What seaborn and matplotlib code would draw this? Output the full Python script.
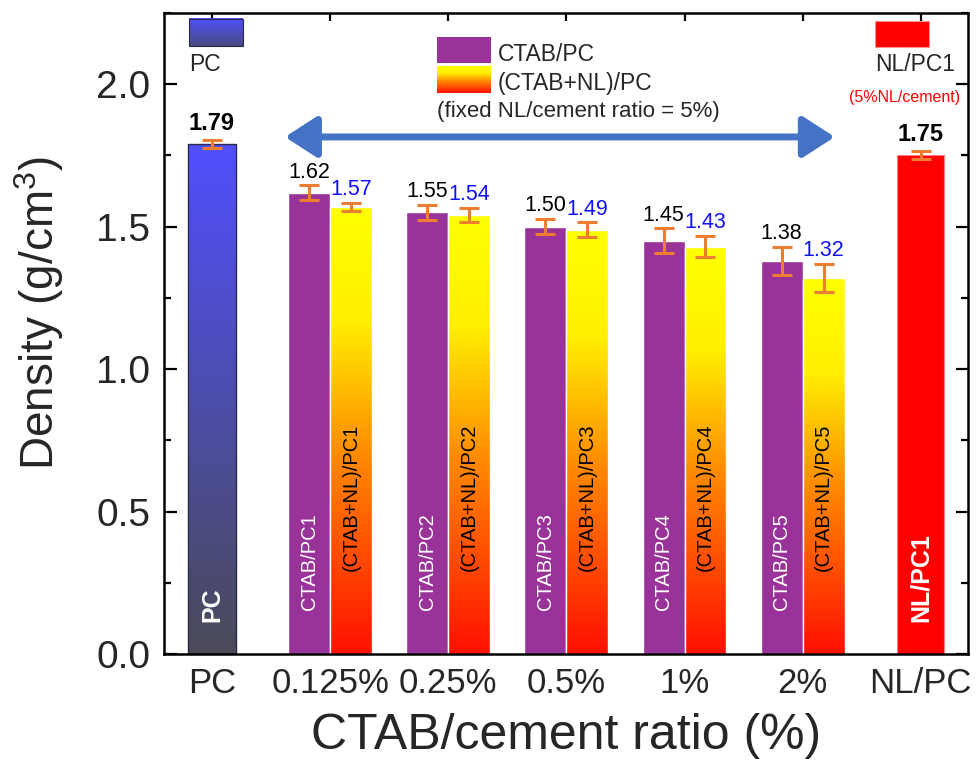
import numpy as np
import pandas as pd
import matplotlib
matplotlib.use('Agg')
import matplotlib.pyplot as plt
import seaborn as sns
from matplotlib.colors import LinearSegmentedColormap, to_rgb
from matplotlib.patches import Rectangle
from matplotlib.ticker import MultipleLocator, NullLocator, FormatStrFormatter

# ---------------- data ----------------
categories = ['PC', '0.125%', '0.25%', '0.5%', '1%', '2%', 'NL/PC']
single_cats = ['PC', 'NL/PC']
single_vals = [1.79, 1.75]
single_err = [0.014, 0.014]
single_names = ['PC', 'NL/PC1']

group_cats = ['0.125%', '0.25%', '0.5%', '1%', '2%']
series = ['CTAB/PC', '(CTAB+NL)/PC']
ctab_vals = [1.62, 1.55, 1.50, 1.45, 1.38]
ctab_err = [0.025, 0.026, 0.026, 0.044, 0.049]
ctabnl_vals = [1.57, 1.54, 1.49, 1.43, 1.32]
ctabnl_err = [0.014, 0.025, 0.025, 0.038, 0.049]
ctab_names = ['CTAB/PC1', 'CTAB/PC2', 'CTAB/PC3', 'CTAB/PC4', 'CTAB/PC5']
ctabnl_names = ['(CTAB+NL)/PC1', '(CTAB+NL)/PC2', '(CTAB+NL)/PC3',
                '(CTAB+NL)/PC4', '(CTAB+NL)/PC5']

# ---------------- style ----------------
sns.set_theme(style='ticks')
plt.rcParams['font.family'] = ['Liberation Sans', 'DejaVu Sans']
plt.rcParams['mathtext.default'] = 'regular'

PURPLE = '#993399'
ORANGE = '#ED7D31'
ARROW = '#4472C4'
nl_cmap = LinearSegmentedColormap.from_list(
    'nl', [(0.0, '#FF1000'), (0.45, '#FF8C00'), (0.75, '#FFF000'), (1.0, '#FFFF00')])
pc_cmap = LinearSegmentedColormap.from_list('pc', ['#4A4A58', '#5050FF'])

fig = plt.figure(figsize=(9.78, 7.76), dpi=100)
ax = fig.add_axes([0.1677, 0.1572, 0.8221, 0.8260])

# single bars
df_single = pd.DataFrame({'cat': single_cats, 'val': single_vals})
n0 = len(ax.patches)
sns.barplot(data=df_single, x='cat', y='val', hue='cat', order=categories,
            palette={'PC': '#5050FF', 'NL/PC': '#FF0000'}, dodge=False,
            width=0.4, errorbar=None, saturation=1, legend=False, ax=ax)
single_patches = sorted(ax.patches[n0:], key=lambda p: p.get_x())

# grouped bars
df_grp = pd.DataFrame({'cat': group_cats * 2,
                       'val': ctab_vals + ctabnl_vals,
                       'series': [series[0]] * 5 + [series[1]] * 5})
n1 = len(ax.patches)
sns.barplot(data=df_grp, x='cat', y='val', hue='series', order=categories,
            hue_order=series, palette=[PURPLE, '#FFFF00'], width=0.71,
            errorbar=None, saturation=1, legend=False, ax=ax)
grp = ax.patches[n1:]
purple_rgb = np.array(to_rgb(PURPLE))
ctab_patches = sorted([p for p in grp if np.allclose(p.get_facecolor()[:3], purple_rgb, atol=0.02)],
                      key=lambda p: p.get_x())
nl_patches = sorted([p for p in grp if not np.allclose(p.get_facecolor()[:3], purple_rgb, atol=0.02)],
                    key=lambda p: p.get_x())


def grad_fill(patch, cmap, edge=None, lw=0.0):
    x0, y0 = patch.get_x(), patch.get_y()
    w, h = patch.get_width(), patch.get_height()
    g = np.linspace(0, 1, 256).reshape(-1, 1)
    im = ax.imshow(g, extent=[x0, x0 + w, y0, y0 + h], origin='lower',
                   aspect='auto', cmap=cmap, zorder=patch.get_zorder(),
                   interpolation='bilinear')
    im.set_clip_path(patch)
    patch.set_facecolor('none')
    patch.set_zorder(patch.get_zorder() + 0.2)
    if edge is not None:
        patch.set_edgecolor(edge)
        patch.set_linewidth(lw)


grad_fill(single_patches[0], pc_cmap, edge='#2A2A48', lw=1.0)
single_patches[1].set_edgecolor('#FF8080')
single_patches[1].set_linewidth(0.8)
for p in nl_patches:
    grad_fill(p, nl_cmap)


def centers(ps):
    return [p.get_x() + p.get_width() / 2 for p in ps]


# error bars
for ps, vals, errs in [(single_patches, single_vals, single_err),
                       (ctab_patches, ctab_vals, ctab_err),
                       (nl_patches, ctabnl_vals, ctabnl_err)]:
    ax.errorbar(centers(ps), vals, yerr=errs, fmt='none', ecolor=ORANGE,
                elinewidth=2.2, capsize=7.5, capthick=2.2, zorder=5)

# value labels
for x, v, e in zip(centers(single_patches), single_vals, single_err):
    ax.text(x, v + e + 0.018, f'{v:.2f}', ha='center', va='bottom',
            fontsize=17, fontweight='bold', color='black', zorder=6)
for x, v, e in zip(centers(ctab_patches), ctab_vals, ctab_err):
    ax.text(x, v + e + 0.01, f'{v:.2f}', ha='center', va='bottom',
            fontsize=15.5, color='black', zorder=6)
for x, v, e in zip(centers(nl_patches), ctabnl_vals, ctabnl_err):
    ax.text(x, v + e + 0.01, f'{v:.2f}', ha='center', va='bottom',
            fontsize=15.5, color='#1010FF', zorder=6)

# in-bar names
for x, n in zip(centers(single_patches), single_names):
    ax.text(x, 0.112, n, rotation=90, ha='center', va='bottom', color='white',
            fontsize=18, fontweight='bold', zorder=6)
for x, n in zip(centers(ctab_patches), ctab_names):
    ax.text(x, 0.155, n, rotation=90, ha='center', va='bottom', color='white',
            fontsize=14.5, zorder=6)
for x, n in zip(centers(nl_patches), ctabnl_names):
    ax.text(x, 0.29, n, rotation=90, ha='center', va='bottom', color='black',
            fontsize=14.5, zorder=6)

# legend-like keys
g = np.linspace(0, 1, 128).reshape(-1, 1)
ax.imshow(g, extent=[-0.195, 0.262, 2.134, 2.229], origin='lower', aspect='auto',
          cmap=LinearSegmentedColormap.from_list('pck', ['#4A4A80', '#5050FF']), zorder=4)
ax.add_patch(Rectangle((-0.195, 2.134), 0.457, 0.095, fill=False, ec='#2A2A48', lw=0.8, zorder=4.2))
ax.text(-0.195, 2.068, 'PC', ha='left', va='center', fontsize=16.5, zorder=6)

ax.add_patch(Rectangle((1.904, 2.075), 0.457, 0.091, fc=PURPLE, ec='none', zorder=4))
ax.imshow(g, extent=[1.904, 2.361, 1.970, 2.064], origin='lower', aspect='auto',
          cmap=nl_cmap, zorder=4)
ax.text(2.42, 2.106, series[0], ha='left', va='center', fontsize=16.5, zorder=6)
ax.text(2.42, 2.002, series[1], ha='left', va='center', fontsize=16.5, zorder=6)
ax.text(1.904, 1.905, '(fixed NL/cement ratio = 5%)', ha='left', va='center',
        fontsize=16, zorder=6)

ax.add_patch(Rectangle((5.61, 2.131), 0.458, 0.091, fc='#FF0000', ec='#FF9090', lw=0.8, zorder=4))
ax.text(5.61, 2.068, 'NL/PC1', ha='left', va='center', fontsize=16.5, zorder=6)
ax.text(5.865, 1.955, '(5%NL/cement)', ha='center', va='center', fontsize=11.5,
        color='#FF0000', zorder=6)

ax.annotate('', xy=(0.618, 1.815), xytext=(5.272, 1.815),
            arrowprops=dict(arrowstyle='<|-|>,head_length=0.65,head_width=0.42',
                            mutation_scale=30, color=ARROW, lw=5,
                            shrinkA=0, shrinkB=0), zorder=4)

# axes
ax.set_xlim(-0.406, 6.40)
ax.set_ylim(0, 2.25)
ax.yaxis.set_major_locator(MultipleLocator(0.5))
ax.yaxis.set_minor_locator(MultipleLocator(0.25))
ax.yaxis.set_major_formatter(FormatStrFormatter('%.1f'))
ax.xaxis.set_minor_locator(NullLocator())
ax.tick_params(axis='both', which='both', direction='in', top=True, right=True,
               width=1.6, color='black')
ax.tick_params(axis='y', which='major', length=9, labelsize=28, pad=10)
ax.tick_params(axis='y', which='minor', length=5)
ax.tick_params(axis='x', which='major', length=6, labelsize=25, pad=9)
for s in ax.spines.values():
    s.set_visible(True)
    s.set_linewidth(1.8)
    s.set_color('black')
ax.set_facecolor('white')
ax.set_xlabel('CTAB/cement ratio (%)', fontsize=36, labelpad=10)
ax.set_ylabel('Density (g/cm$^3$)', fontsize=33)
ax.yaxis.set_label_coords(-0.122, 0.532)

fig.savefig('out.png', dpi=100, facecolor='white')
